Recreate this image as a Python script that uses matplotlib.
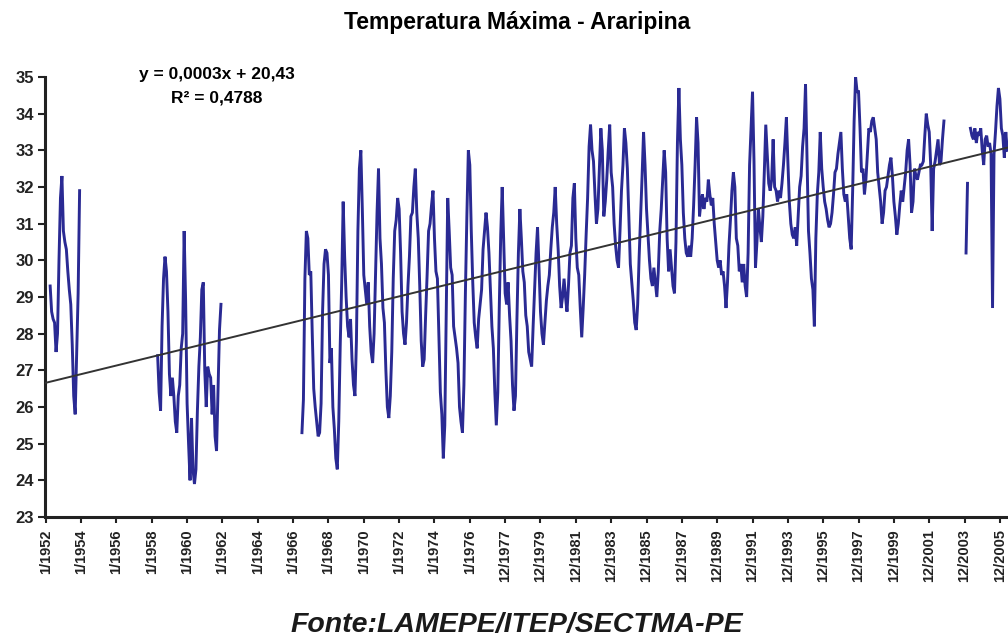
import numpy as np
import matplotlib
matplotlib.use('Agg')
import matplotlib.pyplot as plt

plt.rcParams['font.family'] = ['Liberation Sans', 'DejaVu Sans']

# Temperatura máxima mensal (°C) - Araripina, em índice de mês (0 = jan/1952)
inicio_1952 = 3
tmax_1952 = [29.3, 28.6, 28.4, 28.3, 27.5, 28.0, 30.0, 31.7, 32.3, 30.8, 30.5,
             30.3, 29.7, 29.2, 28.8, 27.7, 26.3, 25.8, 27.4, 29.1, 31.9]

inicio_1958 = 76
tmax_1958 = [27.4, 26.4, 25.9, 28.2, 29.5, 30.1, 29.7, 28.6, 26.9, 26.3, 26.8, 26.3,
             25.6, 25.3, 26.3, 26.6, 27.6, 28.0, 30.8, 28.9, 26.1, 25.0, 24.0, 25.7,
             24.3, 23.9, 24.3, 25.9, 27.1, 27.9, 29.2, 29.4, 27.0, 26.0, 27.1, 26.9,
             26.8, 25.8, 26.6, 25.2, 24.8, 26.4, 28.1, 28.8]

inicio_1966 = 174
tmax_1966 = [
    25.3, 26.2, 29.5, 30.8, 30.6, 29.6, 29.7, 28.0, 26.5, 26.0, 25.6, 25.2,
    25.3, 26.1, 28.6, 29.9, 30.3, 30.2, 29.6, 27.2, 27.6, 26.0, 25.4, 24.6,
    24.3, 25.6, 27.7, 29.4, 31.6, 30.1, 29.0, 28.2, 27.9, 28.4, 27.3, 26.6,
    26.3, 27.8, 30.8, 32.5, 33.0, 31.4, 29.6, 29.2, 28.8, 29.4, 28.2, 27.5,
    27.2, 28.0, 29.7, 31.3, 32.5, 30.6, 29.9, 28.7, 28.3, 27.0, 26.0, 25.7,
    26.3, 27.5, 29.5, 30.8, 31.1, 31.7, 31.4, 30.2, 28.6, 28.0, 27.7, 28.3,
    29.3, 30.1, 31.2, 31.3, 32.0, 32.5, 31.3, 30.6, 29.3, 27.8, 27.1, 27.3,
    28.5, 29.6, 30.8, 31.0, 31.5, 31.9, 30.6, 29.7, 29.5, 28.0, 26.4, 25.8,
    24.6, 25.5, 28.6, 31.7, 30.8, 29.8, 29.6, 28.2, 27.9, 27.6, 27.2, 26.0,
    25.6, 25.3, 26.6, 29.1, 31.2, 33.0, 32.6, 30.8, 29.4, 28.3, 27.9, 27.6,
    28.4, 28.8, 29.2, 30.3, 30.8, 31.3, 30.9, 30.2, 29.2, 28.2, 27.6, 26.4,
    25.5, 26.4, 28.7, 30.7, 32.0, 30.5, 29.1, 28.8, 29.4, 28.5, 27.8, 26.6,
    25.9, 26.3, 28.4, 30.2, 31.4, 30.6, 29.7, 29.4, 28.5, 28.2, 27.5, 27.3,
    27.1, 28.2, 29.2, 30.2, 30.9, 29.8, 28.6, 28.0, 27.7, 28.3, 28.9, 29.3,
    29.6, 30.3, 30.9, 31.3, 32.0, 31.0, 30.3, 29.3, 28.7, 29.0, 29.5, 29.0,
    28.6, 29.3, 30.2, 30.4, 31.7, 32.1, 30.6, 29.8, 29.6, 28.7, 27.9, 28.7,
    29.6, 30.7, 31.7, 33.1, 33.7, 33.0, 32.7, 31.8, 31.0, 31.4, 32.5, 33.6,
    33.0, 31.2, 31.6, 32.2, 33.0, 33.7, 32.4, 32.0, 31.0, 30.4, 30.0, 29.8,
    30.8, 31.9, 32.6, 33.6, 33.2, 32.5, 31.2, 29.9, 29.4, 28.9, 28.3, 28.1,
    28.8, 30.1, 31.2, 32.3, 33.5, 32.6, 31.4, 30.7, 30.0, 29.5, 29.3, 29.8,
    29.4, 29.0, 29.7, 30.8, 31.4, 32.2, 33.0, 32.4, 30.6, 29.7, 30.3, 29.8,
    29.3, 29.1, 30.5, 33.2, 34.7, 33.3, 32.6, 31.3, 30.6, 30.2, 30.1, 30.4,
    30.1, 30.6, 31.5, 32.6, 33.9, 33.2, 31.2, 31.6, 31.8, 31.4, 31.7, 31.6,
    32.2, 31.8, 31.5, 31.7, 31.0, 30.5, 30.0, 29.8, 30.0, 29.6, 29.7, 29.3,
    28.7, 29.4, 30.4, 31.1, 31.9, 32.4, 32.0, 30.6, 30.4, 29.7, 29.9, 29.4,
    29.9, 29.3, 29.0, 30.2, 32.6, 33.6, 34.6, 32.7, 29.8, 30.5, 31.4, 30.9,
    30.5, 31.2, 32.4, 33.7, 32.9, 32.1, 31.9, 32.2, 33.3, 32.0, 31.9, 31.6,
    31.9, 31.7, 32.1, 32.6, 33.2, 33.9, 32.7, 31.6, 31.0, 30.7, 30.6, 30.9,
    30.4, 31.2, 32.0, 32.3, 33.1, 33.6, 34.8, 32.8, 30.8, 30.2, 29.5, 29.2,
    28.2, 30.6, 31.8, 32.4, 33.5, 32.5, 32.0, 31.6, 31.4, 31.1, 30.9, 31.0,
    31.3, 31.8, 32.4, 32.5, 32.9, 33.2, 33.5, 32.5, 31.8, 31.6, 31.8, 31.2,
    30.6, 30.3, 31.9, 33.8, 35.0, 34.6, 34.6, 33.6, 32.4, 32.5, 31.8, 32.2,
    32.9, 33.6, 33.5, 33.8, 33.9, 33.6, 33.3, 32.4, 32.0, 31.6, 31.0, 31.3,
    31.9, 32.0, 32.3, 32.6, 32.8, 32.3, 31.6, 31.2, 30.7, 31.0, 31.5, 31.9,
    31.6, 32.0, 32.4, 33.0, 33.3, 32.6, 31.3, 31.6, 32.5, 32.3, 32.2, 32.4,
    32.6, 32.6, 32.7, 33.4, 34.0, 33.7, 33.5, 32.6, 30.8, 32.5, 32.7, 33.0,
    33.3, 32.6, 32.7, 33.3, 33.8]

inicio_2003a = 625
tmax_2003a = [30.2, 32.1]

inicio_2003b = 628
tmax_2003b = [33.6, 33.4, 33.3, 33.6, 33.2, 33.5, 33.4, 33.6, 33.0, 32.6, 33.3, 33.4,
              33.1, 33.2, 32.9, 28.7, 32.9, 33.5, 34.2, 34.7, 34.4, 33.6, 33.4, 32.8,
              33.5, 33.0]

# linha de tendência (por mês)
tend_inicio = 26.66
tend_incl = 0.00982

rotulos = ['1/1952', '1/1954', '1/1956', '1/1958', '1/1960', '1/1962', '1/1964',
           '1/1966', '1/1968', '1/1970', '1/1972', '1/1974', '1/1976', '12/1977',
           '12/1979', '12/1981', '12/1983', '12/1985', '12/1987', '12/1989',
           '12/1991', '12/1993', '12/1995', '12/1997', '12/1999', '12/2001',
           '12/2003', '12/2005']

n_meses = 655
serie = np.full(n_meses, np.nan)
for ini, vals in [(inicio_1952, tmax_1952), (inicio_1958, tmax_1958),
                  (inicio_1966, tmax_1966), (inicio_2003a, tmax_2003a),
                  (inicio_2003b, tmax_2003b)]:
    serie[ini:ini + len(vals)] = vals

meses = np.arange(n_meses)

fig = plt.figure(figsize=(10.08, 6.42), dpi=100)
ax = fig.add_axes([45 / 1008, 125 / 642, 963 / 1008, 440 / 642])

ax.plot(meses, serie, color='#2a2a93', lw=2.1, solid_joinstyle='miter', zorder=2)
ax.plot(meses, tend_inicio + tend_incl * meses, color='#333333', lw=1.4, zorder=3)

ax.set_ylim(23, 35)
ax.set_xlim(-0.5, 653.5)
ax.set_yticks(range(23, 36))
ax.set_yticklabels([str(v) for v in range(23, 36)], fontsize=12, fontweight='bold')
ax.set_xticks([24 * i for i in range(len(rotulos))])
ax.set_xticklabels(rotulos, rotation=90, fontsize=10.5, fontweight='bold')

for s in ['top', 'right']:
    ax.spines[s].set_visible(False)
for s in ['left', 'bottom']:
    ax.spines[s].set_linewidth(2.2)
    ax.spines[s].set_color('#222222')
ax.tick_params(axis='y', direction='out', length=5, width=1.5, pad=3, colors='#222222')
ax.tick_params(axis='x', direction='out', length=4, width=1.5, pad=5, colors='#222222')

fig.text(517 / 1008, 1 - 23 / 642, 'Temperatura Máxima - Araripina',
         ha='center', va='center', fontsize=16.5, fontweight='bold')
fig.text(217 / 1008, 1 - 75 / 642, 'y = 0,0003x + 20,43',
         ha='center', va='center', fontsize=12.5, fontweight='bold')
fig.text(217 / 1008, 1 - 98 / 642, 'R² = 0,4788',
         ha='center', va='center', fontsize=12.5, fontweight='bold')
fig.text(517 / 1008, 1 - 625 / 642, 'Fonte:LAMEPE/ITEP/SECTMA-PE',
         ha='center', va='center', fontsize=20.5, fontweight='bold', style='italic',
         color='#1a1a1a')

fig.savefig('out.png', dpi=100, facecolor='white')
